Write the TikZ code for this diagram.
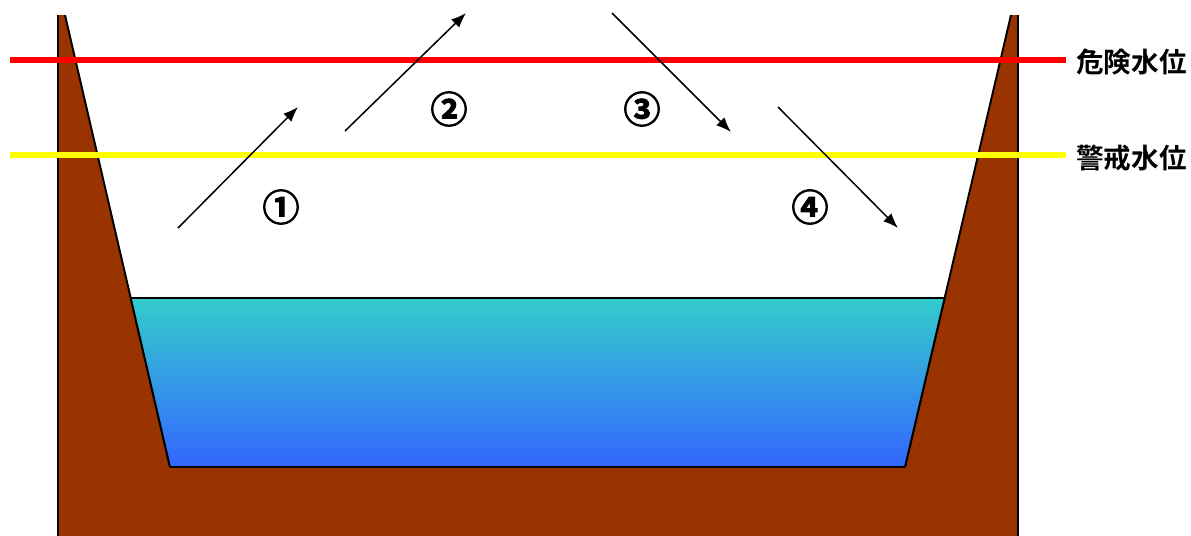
\documentclass[tikz,border=0pt]{standalone}
\usepackage{fontspec}
\newfontfamily\jpfont{Noto Sans CJK JP}[BoldFont={* Bold}]
\newfontfamily\circfont{Noto Sans CJK JP}[UprightFont={* Bold}, FakeBold=2.5]
\usetikzlibrary{positioning,arrows.meta,calc}

\definecolor{bankbrown}{HTML}{993300}
\definecolor{watertop}{HTML}{33CCCC}
\definecolor{waterbot}{HTML}{3366FF}
\definecolor{dangerred}{HTML}{FF0000}
\definecolor{warnyellow}{HTML}{FFFF00}

\begin{document}
\begin{tikzpicture}[
  x=0.02cm, y=-0.02cm, >={Latex[length=8.5pt,width=6.5pt]},
  edge/.style={line width=1.1pt, black},
  level/.style={line width=2.9pt},
  levellabel/.style={font=\jpfont\bfseries\fontsize{15.7}{18}\selectfont, anchor=west, inner sep=0pt},
  flow/.style={->, line width=0.85pt, black},
  stage/.style={font=\circfont\fontsize{21}{24}\selectfont, inner sep=0pt},
]
\useasboundingbox (0,0) rectangle (1191,535);
% ---- banks ----
\coordinate (lwtop) at (130.7,298);
\coordinate (rwtop) at (944.6,298);
\coordinate (lbot) at (170,467);
\coordinate (rbot) at (905,467);
\fill[bankbrown] (58,540) -- (58,15) -- (65,15) -- (lbot) -- (rbot) -- (1011,15) -- (1018,15) -- (1018,540) -- cycle;
\draw[edge] (58,540) -- (58,15);
\draw[edge] (65,15) -- (lbot);
\draw[edge] (1011,15) -- (rbot);
\draw[edge] (1018,15) -- (1018,540);
% ---- water ----
\shade[top color=watertop, bottom color=waterbot] (lwtop) -- (rwtop) -- (rbot) -- (lbot) -- cycle;
\draw[edge] (lwtop) -- (rwtop);
\draw[edge] (lbot) -- (rbot);
\draw[edge] (lwtop) -- (lbot);
\draw[edge] (rwtop) -- (rbot);
% ---- water levels ----
\node[levellabel] (danger) at (1076,62) {危険水位};
\node[levellabel] (warn) at (1076,158) {警戒水位};
\coordinate (dstart) at (10,60);
\coordinate (wstart) at (10,155);
\draw[level, dangerred] (dstart) -- (1066,60);
\draw[level, warnyellow] (wstart) -- (1066,155);
% ---- rise and fall ----
\coordinate (a1s) at (178,228); \coordinate (a1e) at (298,107);
\coordinate (a2s) at (345,131); \coordinate (a2e) at (466,13);
\coordinate (a3s) at (612,13);  \coordinate (a3e) at (731,132);
\coordinate (a4s) at (778,107); \coordinate (a4e) at (898,228);
\draw[flow] (a1s) -- (a1e);
\draw[flow] (a2s) -- (a2e);
\draw[flow] (a3s) -- (a3e);
\draw[flow] (a4s) -- (a4e);
\node[stage] (s1) at (281,207) {①};
\node[stage] (s2) at (449,109) {②};
\node[stage] (s3) at (642,109) {③};
\node[stage] (s4) at (810,207) {④};
\end{tikzpicture}
\end{document}
